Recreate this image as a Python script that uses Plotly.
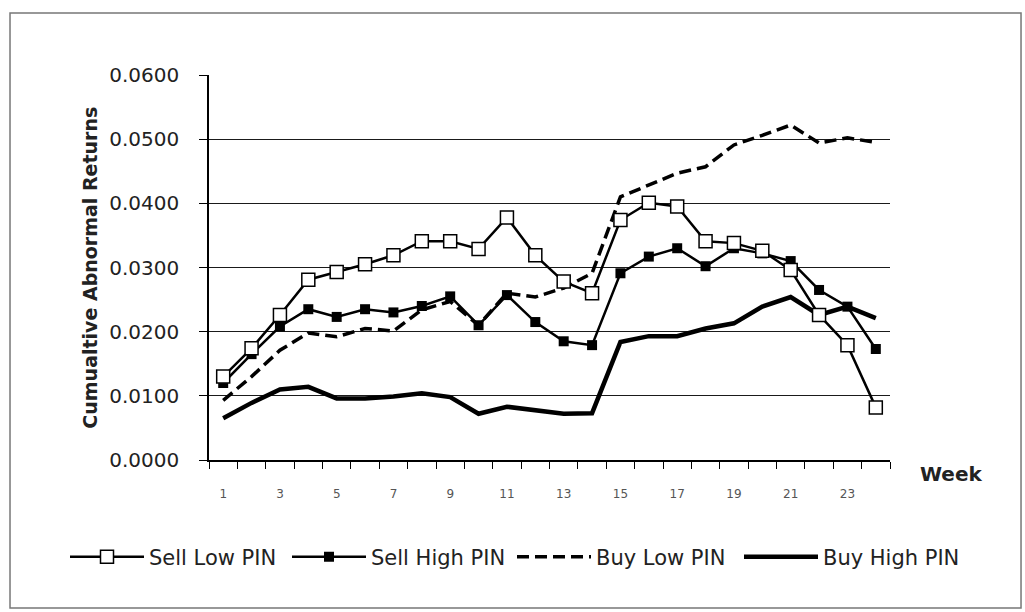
import plotly.graph_objects as go

weeks = list(range(1, 25))
tick_weeks = [1, 3, 5, 7, 9, 11, 13, 15, 17, 19, 21, 23]
tick_labels = [str(w) for w in tick_weeks]
y_ticks = [0.0, 0.01, 0.02, 0.03, 0.04, 0.05, 0.06]

sell_low = [0.0130, 0.0174, 0.0226, 0.0281, 0.0293, 0.0305, 0.0319, 0.0341, 0.0341, 0.0329,
            0.0378, 0.0319, 0.0278, 0.0260, 0.0374, 0.0401, 0.0395, 0.0341, 0.0338, 0.0326,
            0.0296, 0.0226, 0.0179, 0.0082]
sell_high = [0.0120, 0.0165, 0.0208, 0.0235, 0.0223, 0.0235, 0.0230, 0.0240, 0.0255, 0.0210,
             0.0257, 0.0215, 0.0185, 0.0179, 0.0291, 0.0317, 0.0330, 0.0302, 0.0330, 0.0322,
             0.0310, 0.0265, 0.0239, 0.0173]
buy_low = [0.0093, 0.0130, 0.0171, 0.0198, 0.0192, 0.0205, 0.0201, 0.0234, 0.0247, 0.0210,
           0.0260, 0.0254, 0.0268, 0.0291, 0.0410, 0.0429, 0.0447, 0.0457, 0.0491, 0.0506,
           0.0522, 0.0494, 0.0502, 0.0495]
buy_high = [0.0065, 0.0089, 0.0110, 0.0114, 0.0096, 0.0096, 0.0099, 0.0104, 0.0098, 0.0072,
            0.0083, 0.0078, 0.0072, 0.0073, 0.0184, 0.0193, 0.0193, 0.0205, 0.0213, 0.0239,
            0.0254, 0.0226, 0.0239, 0.0221]

FONT = "DejaVu Sans"

fig = go.Figure()
fig.add_trace(go.Scatter(x=weeks, y=buy_high, name="Buy High PIN", mode="lines",
                         line=dict(color="black", width=4.5), legend="legend4"))
fig.add_trace(go.Scatter(x=weeks, y=buy_low, name="Buy Low PIN", mode="lines",
                         line=dict(color="black", width=3.5, dash="12px,6px"), legend="legend3"))
fig.add_trace(go.Scatter(x=weeks, y=sell_high, name="Sell High PIN", mode="lines+markers",
                         line=dict(color="black", width=2.5),
                         marker=dict(symbol="square", size=10, color="black"), legend="legend2"))
fig.add_trace(go.Scatter(x=weeks, y=sell_low, name="Sell Low PIN", mode="lines+markers",
                         line=dict(color="black", width=2.5),
                         marker=dict(symbol="square", size=13, color="white",
                                     line=dict(color="black", width=1.5)), legend="legend"))


def legend_at(px):
    return dict(orientation="h", xref="container", yref="container",
                x=px / 1025, xanchor="left", y=1 - 557 / 612, yanchor="middle",
                font=dict(size=21, family=FONT, color="#222222"),
                itemwidth=74, bgcolor="rgba(0,0,0,0)")


fig.update_layout(
    width=1025, height=612,
    margin=dict(l=209, r=135, t=75, b=152),
    paper_bgcolor="white", plot_bgcolor="white",
    font=dict(family=FONT, color="black"),
    showlegend=True,
    legend=legend_at(65),
    legend2=legend_at(287),
    legend3=legend_at(512),
    legend4=legend_at(739),
    xaxis=dict(range=[0.5, 24.5], tickmode="array", tickvals=tick_weeks, ticktext=tick_labels,
               ticks="", showgrid=False, zeroline=False, showline=True,
               linecolor="black", linewidth=1.5,
               tickfont=dict(size=12, color="#555555", family=FONT),
               ticklabelstandoff=22,
               minor=dict(tickmode="array", tickvals=[w - 0.5 for w in weeks] + [24.5],
                          ticks="outside", ticklen=7, tickcolor="black", tickwidth=1.2,
                          showgrid=False)),
    yaxis=dict(range=[0, 0.06], tickmode="array", tickvals=y_ticks, tickformat=".4f",
               ticks="outside", ticklen=8, tickcolor="black", tickwidth=1.2,
               showgrid=True, gridcolor="#1a1a1a", gridwidth=1.3,
               zeroline=False, showline=True, linecolor="black", linewidth=1.5,
               tickfont=dict(size=20, color="#222222", family=FONT), ticklabelstandoff=16),
    annotations=[
        dict(text="<b>Cumualtive Abnormal Returns</b>", xref="paper", yref="paper",
             x=-0.176, y=0.5, textangle=-90, showarrow=False,
             font=dict(size=19, family=FONT, color="#222222"),
             xanchor="center", yanchor="middle"),
        dict(text="<b>Week</b>", xref="paper", yref="paper",
             x=1.0896, y=-0.036, showarrow=False,
             font=dict(size=20, family=FONT, color="#222222"),
             xanchor="center", yanchor="middle"),
    ],
    shapes=[
        dict(type="rect", xref="paper", yref="paper",
             x0=-0.2922, x1=1.1924, y0=-0.3844, y1=1.161,
             line=dict(color="#777777", width=1.5), fillcolor="rgba(0,0,0,0)", layer="below"),
    ],
)

fig.write_html("out.html", config={"displayModeBar": False},
               post_script="document.body.style.margin='0';")
